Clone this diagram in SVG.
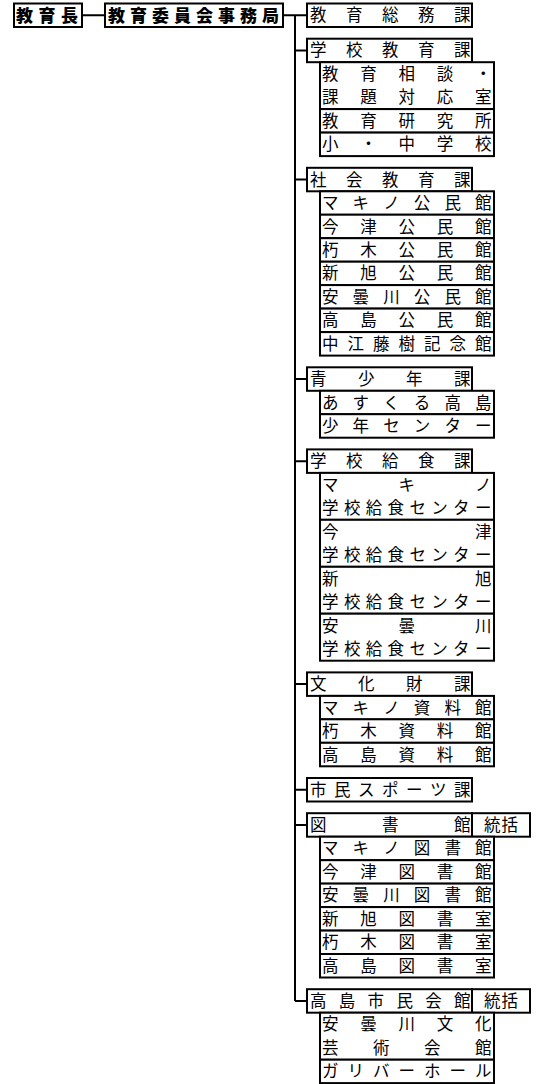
<svg xmlns="http://www.w3.org/2000/svg" width="536" height="1084" viewBox="0 0 536 1084">
<style>
.box{fill:#fff;stroke:#000;stroke-width:2}
.ln{fill:none;stroke:#000;stroke-width:2}
text{font-family:"Noto Sans CJK JP","Noto Sans CJK SC",sans-serif;font-size:16.5px;fill:#000}
.b{font-size:17px;font-weight:900}
</style>
<rect width="536" height="1084" fill="#fff"/>
<g id="connectors">
<path class="ln" d="M82 15.2H105M283 15.2H307M295 15.2V1001"/>
<path class="ln" d="M295 50.4H307M295 179.5H307M295 379H307M295 461.2H307M295 684.1H307M295 789.7H307M295 825H307M295 1001H307"/>
</g>
<g id="n-kyoikucho"><rect class="box" x="14" y="3.5" width="68" height="23.5"/><text class="b" x="16 38.5 61" y="21.6">教育長</text></g>
<g id="n-jimukyoku"><rect class="box" x="105" y="3.5" width="178" height="23.5"/><text class="b" x="108 130 152 174 196 218 240 262" y="21.6">教育委員会事務局</text></g>
<g id="n-somu"><rect class="box" x="307" y="3.5" width="165" height="23.5"/><text x="310 346 382 418 454" y="21.2">教育総務課</text></g>
<g id="n-gakko"><rect class="box" x="307" y="38.7" width="165" height="23.5"/><text x="310 346 382 418 454" y="56.4">学校教育課</text></g>
<g id="n-sodan"><rect class="box" x="320" y="62.2" width="174" height="46.9"/><text x="322 360.3 398.5 436.8 475" y="79.9">教育相談・</text><text x="322 360.3 398.5 436.8 475" y="103.4">課題対応室</text></g>
<g id="n-kenkyu"><rect class="box" x="320" y="109.1" width="174" height="23.5"/><text x="322 360.3 398.5 436.8 475" y="126.9">教育研究所</text></g>
<g id="n-shochu"><rect class="box" x="320" y="132.6" width="174" height="23.5"/><text x="322 360.3 398.5 436.8 475" y="150.3">小・中学校</text></g>
<g id="n-shakai"><rect class="box" x="307" y="167.8" width="165" height="23.5"/><text x="310 346 382 418 454" y="185.5">社会教育課</text></g>
<g id="n-k1"><rect class="box" x="320" y="191.3" width="174" height="23.5"/><text x="322 352.6 383.2 413.8 444.4 475" y="209">マキノ公民館</text></g>
<g id="n-k2"><rect class="box" x="320" y="214.7" width="174" height="23.5"/><text x="322 360.3 398.5 436.8 475" y="232.5">今津公民館</text></g>
<g id="n-k3"><rect class="box" x="320" y="238.2" width="174" height="23.5"/><text x="322 360.3 398.5 436.8 475" y="255.9">朽木公民館</text></g>
<g id="n-k4"><rect class="box" x="320" y="261.7" width="174" height="23.5"/><text x="322 360.3 398.5 436.8 475" y="279.4">新旭公民館</text></g>
<g id="n-k5"><rect class="box" x="320" y="285.1" width="174" height="23.5"/><text x="322 352.6 383.2 413.8 444.4 475" y="302.9">安曇川公民館</text></g>
<g id="n-k6"><rect class="box" x="320" y="308.6" width="174" height="23.5"/><text x="322 360.3 398.5 436.8 475" y="326.3">高島公民館</text></g>
<g id="n-k7"><rect class="box" x="320" y="332.1" width="174" height="23.5"/><text x="322 347.5 373 398.5 424 449.5 475" y="349.8">中江藤樹記念館</text></g>
<g id="n-seishonen"><rect class="box" x="307" y="367.3" width="165" height="23.5"/><text x="310 358 406 454" y="385">青少年課</text></g>
<g id="n-asukuru"><rect class="box" x="320" y="390.8" width="174" height="23.5"/><text x="322 352.6 383.2 413.8 444.4 475" y="408.5">あすくる高島</text></g>
<g id="n-shonen"><rect class="box" x="320" y="414.2" width="174" height="23.5"/><text x="322 352.6 383.2 413.8 444.4 475" y="432">少年センター</text></g>
<g id="n-kyushoku"><rect class="box" x="307" y="449.4" width="165" height="23.5"/><text x="310 346 382 418 454" y="467.2">学校給食課</text></g>
<g id="n-q1"><rect class="box" x="320" y="472.9" width="174" height="46.9"/><text x="322 398.5 475" y="490.6">マキノ</text><text x="322 343.9 365.7 387.6 409.4 431.3 453.1 475" y="514.1">学校給食センター</text></g>
<g id="n-q2"><rect class="box" x="320" y="519.8" width="174" height="47"/><text x="322 475" y="537.6">今津</text><text x="322 343.9 365.7 387.6 409.4 431.3 453.1 475" y="561">学校給食センター</text></g>
<g id="n-q3"><rect class="box" x="320" y="566.8" width="174" height="46.9"/><text x="322 475" y="584.5">新旭</text><text x="322 343.9 365.7 387.6 409.4 431.3 453.1 475" y="608">学校給食センター</text></g>
<g id="n-q4"><rect class="box" x="320" y="613.7" width="174" height="47"/><text x="322 398.5 475" y="631.5">安曇川</text><text x="322 343.9 365.7 387.6 409.4 431.3 453.1 475" y="654.9">学校給食センター</text></g>
<g id="n-bunkazai"><rect class="box" x="307" y="672.4" width="165" height="23.5"/><text x="310 358 406 454" y="690.1">文化財課</text></g>
<g id="n-s1"><rect class="box" x="320" y="695.9" width="174" height="23.5"/><text x="322 352.6 383.2 413.8 444.4 475" y="713.6">マキノ資料館</text></g>
<g id="n-s2"><rect class="box" x="320" y="719.3" width="174" height="23.5"/><text x="322 360.3 398.5 436.8 475" y="737.1">朽木資料館</text></g>
<g id="n-s3"><rect class="box" x="320" y="742.8" width="174" height="23.5"/><text x="322 360.3 398.5 436.8 475" y="760.5">高島資料館</text></g>
<g id="n-sports"><rect class="box" x="307" y="778" width="165" height="23.5"/><text x="310 334 358 382 406 430 454" y="795.7">市民スポーツ課</text></g>
<g id="n-toshokan"><rect class="box" x="307" y="813.2" width="165" height="23.5"/><text x="310 382 454" y="831">図書館</text><rect class="box" x="472" y="813.2" width="58" height="23.5"/><text x="484 501.5" y="831">統括</text></g>
<g id="n-l1"><rect class="box" x="320" y="836.7" width="174" height="23.5"/><text x="322 352.6 383.2 413.8 444.4 475" y="854.4">マキノ図書館</text></g>
<g id="n-l2"><rect class="box" x="320" y="860.2" width="174" height="23.5"/><text x="322 360.3 398.5 436.8 475" y="877.9">今津図書館</text></g>
<g id="n-l3"><rect class="box" x="320" y="883.6" width="174" height="23.5"/><text x="322 352.6 383.2 413.8 444.4 475" y="901.4">安曇川図書館</text></g>
<g id="n-l4"><rect class="box" x="320" y="907.1" width="174" height="23.5"/><text x="322 360.3 398.5 436.8 475" y="924.8">新旭図書室</text></g>
<g id="n-l5"><rect class="box" x="320" y="930.6" width="174" height="23.5"/><text x="322 360.3 398.5 436.8 475" y="948.3">朽木図書室</text></g>
<g id="n-l6"><rect class="box" x="320" y="954" width="174" height="23.5"/><text x="322 360.3 398.5 436.8 475" y="971.8">高島図書室</text></g>
<g id="n-shimin"><rect class="box" x="307" y="989.2" width="165" height="23.5"/><text x="310 338.8 367.6 396.4 425.2 454" y="1007">高島市民会館</text><rect class="box" x="472" y="989.2" width="58" height="23.5"/><text x="484 501.5" y="1007">統括</text></g>
<g id="n-azumi"><rect class="box" x="320" y="1012.7" width="174" height="47"/><text x="322 360.3 398.5 436.8 475" y="1030.4">安曇川文化</text><text x="322 373 424 475" y="1053.9">芸術会館</text></g>
<g id="n-gulliver"><rect class="box" x="320" y="1059.7" width="174" height="23.4"/><text x="322 347.5 373 398.5 424 449.5 475" y="1077.4">ガリバーホール</text></g>
</svg>
